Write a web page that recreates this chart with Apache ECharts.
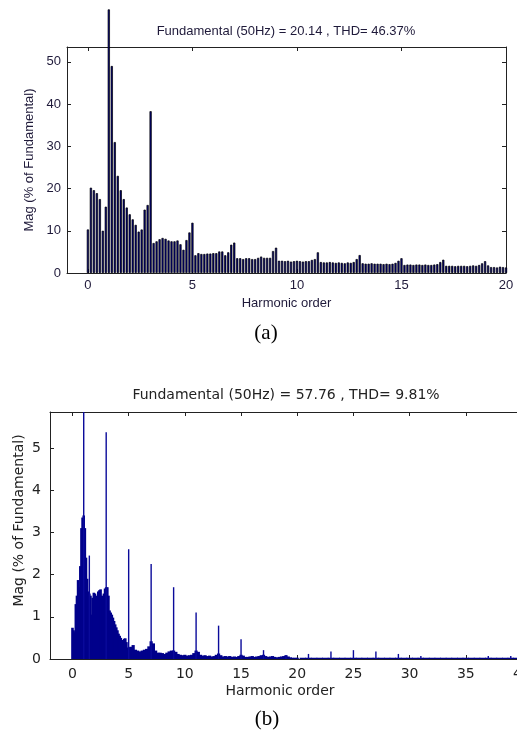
<!DOCTYPE html>
<html>
<head>
<meta charset="utf-8">
<script src="https://cdn.jsdelivr.net/npm/echarts@6/dist/echarts.min.js"></script>
<style>
html,body{margin:0;padding:0;background:#fff;overflow:hidden;}
#c{width:517px;height:735px;}
</style>
</head>
<body>
<div id="c"></div>
<script>
// ---------- (a) spectrum: bars every 1/7 of a harmonic, 0 .. 20 ----------
const topTitle = 'Fundamental (50Hz) = 20.14 , THD= 46.37%';
const topStep = 1 / 7;
const topMags = [
  10.3, 20.2, 19.6, 18.9, 17.5, 10.0, 15.7,
  62.4,
  49, 31, 23, 19.6, 17.5, 15.5, 13.9, 12.7, 11.4, 9.8, 10.3, 15, 16.1,
  38.3,
  7.1, 7.5, 8.0, 8.3, 8.1, 7.7, 7.5, 7.5, 7.7, 6.8, 5.5, 7.8, 9.6,
  11.9,
  4.2, 4.7, 4.5, 4.5, 4.6, 4.6, 4.7, 4.7, 5.1, 5.1, 4.2, 4.9, 6.7,
  7.2,
  3.5, 3.5, 3.3, 3.5, 3.5, 3.3, 3.3, 3.6, 3.9, 3.6, 3.6, 3.6, 5.2,
  6.0,
  2.9, 2.9, 2.8, 2.9, 2.7, 2.8, 2.9, 2.8, 2.7, 2.8, 2.8, 3.1, 3.3,
  4.9,
  2.6, 2.5, 2.5, 2.6, 2.5, 2.4, 2.5, 2.4, 2.3, 2.5, 2.4, 2.6, 3.3,
  4.25,
  2.3, 2.2, 2.2, 2.3, 2.2, 2.2, 2.2, 2.1, 2.2, 2.1, 2.2, 2.4, 2.9,
  3.5,
  1.9, 2.0, 2.0, 1.9, 2.0, 2.0, 1.9, 2.0, 1.9, 1.9, 2.0, 2.1, 2.6,
  3.15,
  1.7, 1.7, 1.7, 1.6, 1.7, 1.7, 1.7, 1.6, 1.7, 1.8, 1.7, 1.9, 2.3,
  2.8,
  1.8, 1.4, 1.4, 1.3, 1.5, 1.4, 1.3
];
const topXTicks = [0, 5, 10, 15, 20];
const topYTicks = [0, 10, 20, 30, 40, 50];

// ---------- (b) spectrum ----------
const botTitle = 'Fundamental (50Hz) = 57.76 , THD= 9.81%';
// dense part 0 .. 5 (step 0.1)
const fineStart = 0, fineStep = 0.1;
const fineMags = [
  0.74, 0.68, 0.63, 1.3, 1.5, 1.87, 1.7, 2.2, 3.1, 3.35,
  3.4, 3.1, 2.4, 1.9, 1.6, 1.55, 1.5, 1.05, 1.45, 1.57,
  1.55, 1.4, 1.5, 1.6, 1.63, 1.65, 1.5, 1.4, 1.55, 1.67,
  1.7, 1.7, 1.5, 1.15, 1.1, 1.05, 0.98, 0.9, 0.82, 0.75,
  0.68, 0.6, 0.55, 0.5, 0.45, 0.43, 0.48, 0.49, 0.4, 0.26,
  0.28
];
// mid part 5.2 .. 20 (step 0.2)
const midStart = 5.2, midStep = 0.2;
const midMags = [
  0.29, 0.33, 0.22, 0.2, 0.18, 0.2, 0.22, 0.24, 0.3, 0.42,
  0.37, 0.2, 0.15, 0.15, 0.14, 0.12, 0.15, 0.18, 0.2, 0.2,
  0.17, 0.12, 0.1, 0.09, 0.1, 0.08, 0.09, 0.1, 0.14, 0.2,
  0.17, 0.1, 0.08, 0.09, 0.07, 0.08, 0.06, 0.07, 0.1, 0.13,
  0.09, 0.06, 0.07, 0.06, 0.07, 0.05, 0.06, 0.05, 0.07, 0.1,
  0.08, 0.05, 0.05, 0.06, 0.07, 0.05, 0.06, 0.07, 0.09, 0.1,
  0.07, 0.05, 0.06, 0.07, 0.05, 0.04, 0.05, 0.06, 0.07, 0.09,
  0.06, 0.04, 0.03, 0.03, 0.03
];
// tail 20.5 .. 40 (step 0.5)
const tailStart = 20.5, tailStep = 0.5;
const tailMags = [
  0.03, 0.03, 0.03, 0.03, 0.03, 0.03, 0.03, 0.03, 0.03, 0.03,
  0.03, 0.03, 0.03, 0.03, 0.03, 0.03, 0.03, 0.03, 0.03, 0.03,
  0.03, 0.03, 0.03, 0.03, 0.03, 0.03, 0.03, 0.03, 0.03, 0.03,
  0.03, 0.03, 0.03, 0.03, 0.03, 0.03, 0.03, 0.03, 0.03, 0.03
];
// narrow harmonic lines
const spikeOrders = [1, 1.5, 3, 5, 7, 9, 11, 13, 15, 17, 19, 21, 23, 25, 27, 29, 31, 37, 39];
const spikeMags   = [100, 2.45, 5.37, 2.6, 2.25, 1.7, 1.1, 0.79, 0.47, 0.21, 0.09, 0.12, 0.18, 0.21, 0.18, 0.12, 0.07, 0.07, 0.07];
const botXTicks = [0, 5, 10, 15, 20, 25, 30, 35, 40];
const botYTicks = [0, 1, 2, 3, 4, 5];

const xName = 'Harmonic order';
const yName = 'Mag (% of Fundamental)';
const labelA = '(a)', labelB = '(b)';

// ---------- helpers ----------
const AX = '#222';
const topFont = {fontFamily: 'Liberation Sans', fontSize: 13, color: '#1f1a3a'};
const botFont = {fontFamily: 'DejaVu Sans', fontSize: 14, color: '#222'};

function pairs(start, step, mags) { return mags.map((v, i) => [start + i * step, v]); }

function xAxisDef(grid, min, max, ticks, pos, showLabel, font, name, gap, margin, namePad) {
  return {
    type: 'value', gridIndex: grid, position: pos, min: min, max: max,
    name: name || '', nameLocation: 'middle', nameGap: gap || 0,
    nameTextStyle: Object.assign({padding: namePad || 0}, font),
    axisLine: {show: true, onZero: false, lineStyle: {color: AX, width: 1}},
    axisTick: {show: true, inside: true, length: 4, customValues: ticks, lineStyle: {color: AX}},
    axisLabel: {show: showLabel, customValues: ticks, margin: margin || 6, fontFamily: font.fontFamily, fontSize: font.fontSize, color: font.color},
    splitLine: {show: false}
  };
}
function yAxisDef(grid, min, max, ticks, pos, showLabel, font, name, gap, margin, namePad) {
  return {
    type: 'value', gridIndex: grid, position: pos, min: min, max: max,
    name: name || '', nameLocation: 'middle', nameGap: gap || 0, nameMoveOverlap: false,
    nameTextStyle: Object.assign({padding: namePad || 0}, font),
    axisLine: {show: true, onZero: false, lineStyle: {color: AX, width: 1}},
    axisTick: {show: true, inside: true, length: 4, customValues: ticks, lineStyle: {color: AX}},
    axisLabel: {show: showLabel, customValues: ticks, margin: margin || 6, fontFamily: font.fontFamily, fontSize: font.fontSize, color: font.color},
    splitLine: {show: false}
  };
}
function hiddenX(grid, min, max) {
  return {type: 'value', gridIndex: grid, min: min, max: max, show: false};
}

const chart = echarts.init(document.getElementById('c'), null, {renderer: 'canvas'});
chart.setOption({
  animation: false,
  backgroundColor: '#fff',
  title: [
    {text: topTitle, left: 286, top: 25, textAlign: 'center', padding: 0,
     textStyle: {fontFamily: 'Liberation Sans', fontSize: 13, fontWeight: 'normal', color: '#1f1a3a'}},
    {text: botTitle, left: 286, top: 388, textAlign: 'center', padding: 0,
     textStyle: {fontFamily: 'DejaVu Sans', fontSize: 14, fontWeight: 'normal', color: '#222'}},
    {text: labelA, left: 266, top: 323, textAlign: 'center', padding: 0,
     textStyle: {fontFamily: 'Liberation Serif', fontSize: 21, fontWeight: 'normal', color: '#000'}},
    {text: labelB, left: 267, top: 709, textAlign: 'center', padding: 0,
     textStyle: {fontFamily: 'Liberation Serif', fontSize: 21, fontWeight: 'normal', color: '#000'}}
  ],
  grid: [
    {left: 67, top: 47, width: 439, height: 226, outerBoundsMode: 'none', containLabel: false},
    {left: 50, top: 412, width: 472, height: 247, outerBoundsMode: 'none', containLabel: false}
  ],
  xAxis: [
    xAxisDef(0, -1, 20, topXTicks, 'bottom', true, topFont, xName, 24),
    xAxisDef(0, -1, 20, topXTicks, 'top', false, topFont),
    xAxisDef(1, -2, 40, botXTicks, 'bottom', true, botFont, xName, 25, 8, [0, 12, 0, 0]),
    xAxisDef(1, -2, 40, botXTicks, 'top', false, botFont),
    hiddenX(1, -2, 40),
    hiddenX(1, -2, 40),
    hiddenX(1, -2, 40)
  ],
  yAxis: [
    yAxisDef(0, 0, 53.5, topYTicks, 'left', true, topFont, yName, 31, 6),
    yAxisDef(0, 0, 53.5, topYTicks, 'right', false, topFont),
    yAxisDef(1, 0, 5.85, botYTicks, 'left', true, botFont, yName, 24, 9, [0, 0, 0, 30]),
    yAxisDef(1, 0, 5.85, botYTicks, 'right', false, botFont)
  ],
  series: [
    {type: 'bar', name: 'a', xAxisIndex: 0, yAxisIndex: 0, clip: false,
     barWidth: 2.2, data: pairs(0, topStep, topMags),
     itemStyle: {color: '#00007a', borderColor: '#000', borderWidth: 0.7}},
    {type: 'bar', name: 'b fine', xAxisIndex: 2, yAxisIndex: 2,
     barWidth: 2.6, data: pairs(fineStart, fineStep, fineMags),
     itemStyle: {color: '#00008b'}},
    {type: 'bar', name: 'b mid', xAxisIndex: 4, yAxisIndex: 2,
     barWidth: 3.2, data: pairs(midStart, midStep, midMags),
     itemStyle: {color: '#00008b'}},
    {type: 'bar', name: 'b tail', xAxisIndex: 5, yAxisIndex: 2,
     barWidth: 6.5, data: pairs(tailStart, tailStep, tailMags),
     itemStyle: {color: '#00008b'}},
    {type: 'bar', name: 'b lines', xAxisIndex: 6, yAxisIndex: 2,
     barWidth: 1.4, data: spikeOrders.map((h, i) => [h, spikeMags[i]]),
     itemStyle: {color: '#0a0a9a'}}
  ]
});
</script>
</body>
</html>
